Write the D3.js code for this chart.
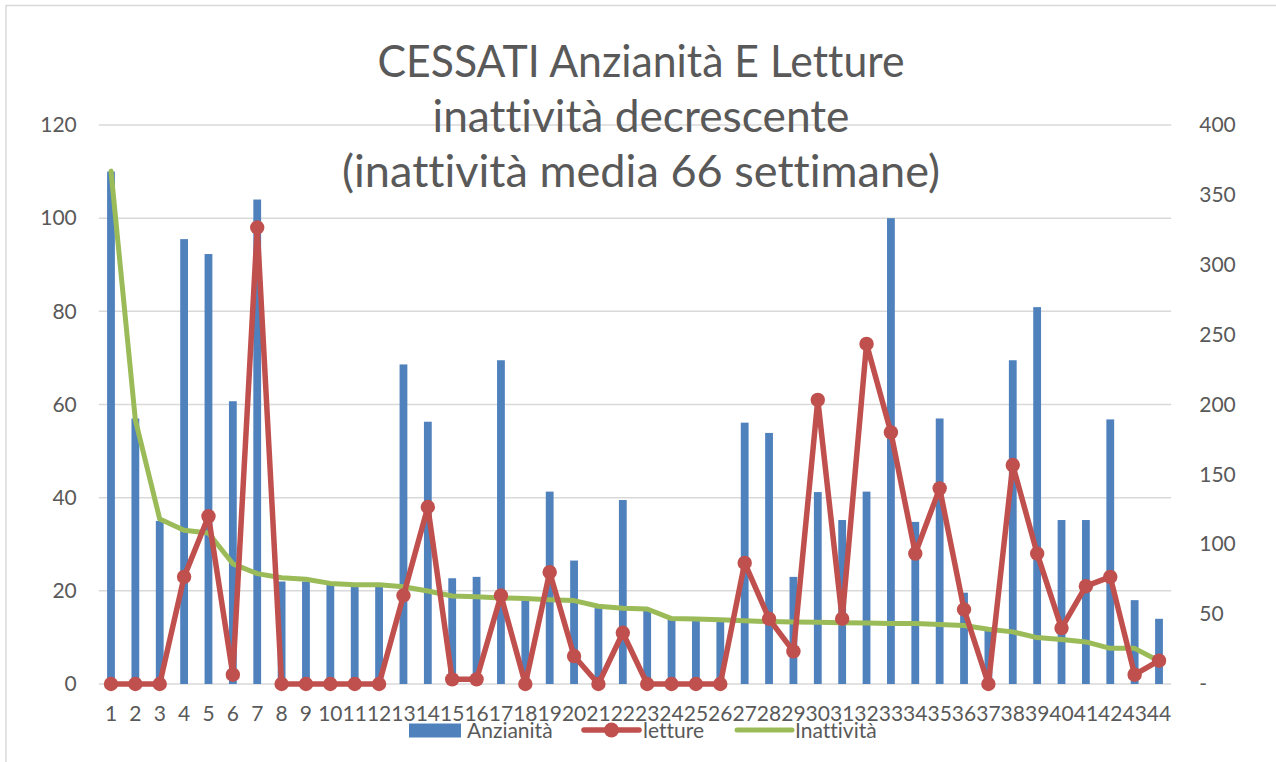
<!DOCTYPE html>
<html>
<head>
<meta charset="utf-8">
<script src="https://cdn.jsdelivr.net/npm/d3@7/dist/d3.min.js"></script>
<style>
  html, body { margin: 0; padding: 0; background: #fff; }
  svg { display: block; }
  text { font-family: Lato, "Open Sans", sans-serif; fill: #595959; font-variant-ligatures: none; font-feature-settings: "liga" 0, "clig" 0; }
</style>
</head>
<body>
<svg id="chart" width="1276" height="762"></svg>
<script>
// ---- data ----
const categories = d3.range(1, 45).map(String);
const anzianita = [110, 57, 35, 95.5, 92.3, 60.7, 104, 22, 22, 21.5, 21, 21, 68.6, 56.3, 22.7, 23,
  69.5, 18, 41.3, 26.5, 16.3, 39.5, 16, 14, 14, 14, 56.1, 53.9, 23, 41.2, 35.2, 41.3, 100, 34.8,
  57, 19.6, 12.2, 69.5, 80.9, 35.2, 35.2, 56.8, 18, 14];
const letture = [0, 0, 0, 23, 36, 2, 98, 0, 0, 0, 0, 0, 19, 38, 1, 1, 19, 0, 24, 6, 0, 11, 0, 0,
  0, 0, 26, 14, 7, 61, 14, 73, 54, 28, 42, 16, 0, 47, 28, 12, 21, 23, 2, 5];
const inattivita = [367, 189, 118, 110, 108, 86, 79, 76, 75, 72, 71, 71, 69.6, 66.6, 63, 62.5,
  61.6, 61.1, 60.3, 59.7, 55.6, 54.2, 53.7, 46.8, 46.6, 46, 45.2, 44.7, 44.4, 44.1, 43.8, 43.6,
  43.3, 43.3, 42.5, 41.9, 39.2, 37.3, 33.2, 31.8, 30.1, 25.5, 25.5, 16.4];
const leftTicks = [0, 20, 40, 60, 80, 100, 120];
const rightTicks = [0, 50, 100, 150, 200, 250, 300, 350, 400];
const titleLines = ["CESSATI Anzianità E Letture", "inattività decrescente", "(inattività media 66 settimane)"];
const seriesNames = ["Anzianità", "letture", "Inattività"];

// ---- layout ----
const W = 1276, H = 762;
const plot = { left: 98.8, right: 1171.2, top: 125, bottom: 684 };
const colors = { bar: "#4F81BD", red: "#C0504D", green: "#9BBB59", grid: "#D9D9D9" };

const svg = d3.select("#chart");
svg.append("rect").attr("x", 0).attr("y", 0).attr("width", W).attr("height", H).attr("fill", "#fff");
svg.append("rect").attr("x", 6).attr("y", 5.5).attr("width", W + 20).attr("height", H + 20)
  .attr("fill", "none").attr("stroke", colors.grid).attr("stroke-width", 1.5);

const x = d3.scaleBand().domain(categories).range([plot.left, plot.right]);
const yL = d3.scaleLinear().domain([0, 120]).range([plot.bottom, plot.top]);
const yR = d3.scaleLinear().domain([0, 400]).range([plot.bottom, plot.top]);
const cx = c => x(c) + x.bandwidth() / 2;

// gridlines
svg.append("g").selectAll("line").data(leftTicks).join("line")
  .attr("x1", plot.left).attr("x2", plot.right)
  .attr("y1", d => yL(d)).attr("y2", d => yL(d))
  .attr("stroke", colors.grid).attr("stroke-width", 1.5);

// title
const titleSizes = [527, 417, 598];
const titleBase = [77, 132, 187];
svg.append("g").selectAll("text").data(titleLines).join("text")
  .attr("x", 641).attr("y", (d, i) => titleBase[i])
  .attr("text-anchor", "middle")
  .attr("font-size", 44)
  .attr("textLength", (d, i) => titleSizes[i])
  .attr("lengthAdjust", "spacingAndGlyphs")
  .text(d => d);

// left axis
const axL = svg.append("g").attr("transform", `translate(${plot.left},0)`)
  .call(d3.axisLeft(yL).tickValues(leftTicks).tickSize(0).tickPadding(22));
axL.select(".domain").remove();
axL.selectAll("text").attr("font-size", 21).attr("fill", "#595959").style("font-family", "Lato");

// right axis
const axR = svg.append("g").attr("transform", `translate(${plot.right},0)`)
  .call(d3.axisRight(yR).tickValues(rightTicks).tickSize(0).tickPadding(28)
    .tickFormat(d => d === 0 ? "-" : d));
axR.select(".domain").remove();
axR.selectAll("text").attr("font-size", 21).attr("fill", "#595959").style("font-family", "Lato");

// bottom axis
const axB = svg.append("g").attr("transform", `translate(0,${plot.bottom})`)
  .call(d3.axisBottom(x).tickSize(0).tickPadding(22));
axB.select(".domain").remove();
axB.selectAll("text").attr("font-size", 21).attr("fill", "#595959").style("font-family", "Lato");

// bars
const barW = x.bandwidth() * 0.32;
svg.append("g").selectAll("rect").data(anzianita).join("rect")
  .attr("x", (d, i) => cx(categories[i]) - barW / 2)
  .attr("width", barW)
  .attr("y", d => yL(d))
  .attr("height", d => yL(0) - yL(d))
  .attr("fill", colors.bar);

// green line (Inattività, right axis)
svg.append("path").datum(inattivita)
  .attr("fill", "none").attr("stroke", colors.green).attr("stroke-width", 5)
  .attr("stroke-linejoin", "round").attr("stroke-linecap", "round")
  .attr("d", d3.line().x((d, i) => cx(categories[i])).y(d => yR(d)));

// red line (letture, left axis)
svg.append("path").datum(letture)
  .attr("fill", "none").attr("stroke", colors.red).attr("stroke-width", 5.5)
  .attr("stroke-linejoin", "round")
  .attr("d", d3.line().x((d, i) => cx(categories[i])).y(d => yL(d)));
svg.append("g").selectAll("circle").data(letture).join("circle")
  .attr("cx", (d, i) => cx(categories[i])).attr("cy", d => yL(d)).attr("r", 7.2)
  .attr("fill", colors.red);

// legend
const lg = svg.append("g");
const legY = 730;
lg.append("rect").attr("x", 409).attr("y", legY - 6.5).attr("width", 52).attr("height", 14).attr("fill", colors.bar);
lg.append("text").attr("x", 467).attr("y", legY + 8).attr("font-size", 21).text(seriesNames[0]);
lg.append("line").attr("x1", 584).attr("x2", 639).attr("y1", legY).attr("y2", legY)
  .attr("stroke", colors.red).attr("stroke-width", 5.5).attr("stroke-linecap", "round");
lg.append("circle").attr("cx", 611.5).attr("cy", legY).attr("r", 7.5).attr("fill", colors.red);
lg.append("text").attr("x", 643).attr("y", legY + 8).attr("font-size", 21).text(seriesNames[1]);
lg.append("line").attr("x1", 737).attr("x2", 792).attr("y1", legY).attr("y2", legY)
  .attr("stroke", colors.green).attr("stroke-width", 5).attr("stroke-linecap", "round");
lg.append("text").attr("x", 795).attr("y", legY + 8).attr("font-size", 21).text(seriesNames[2]);
</script>
</body>
</html>
